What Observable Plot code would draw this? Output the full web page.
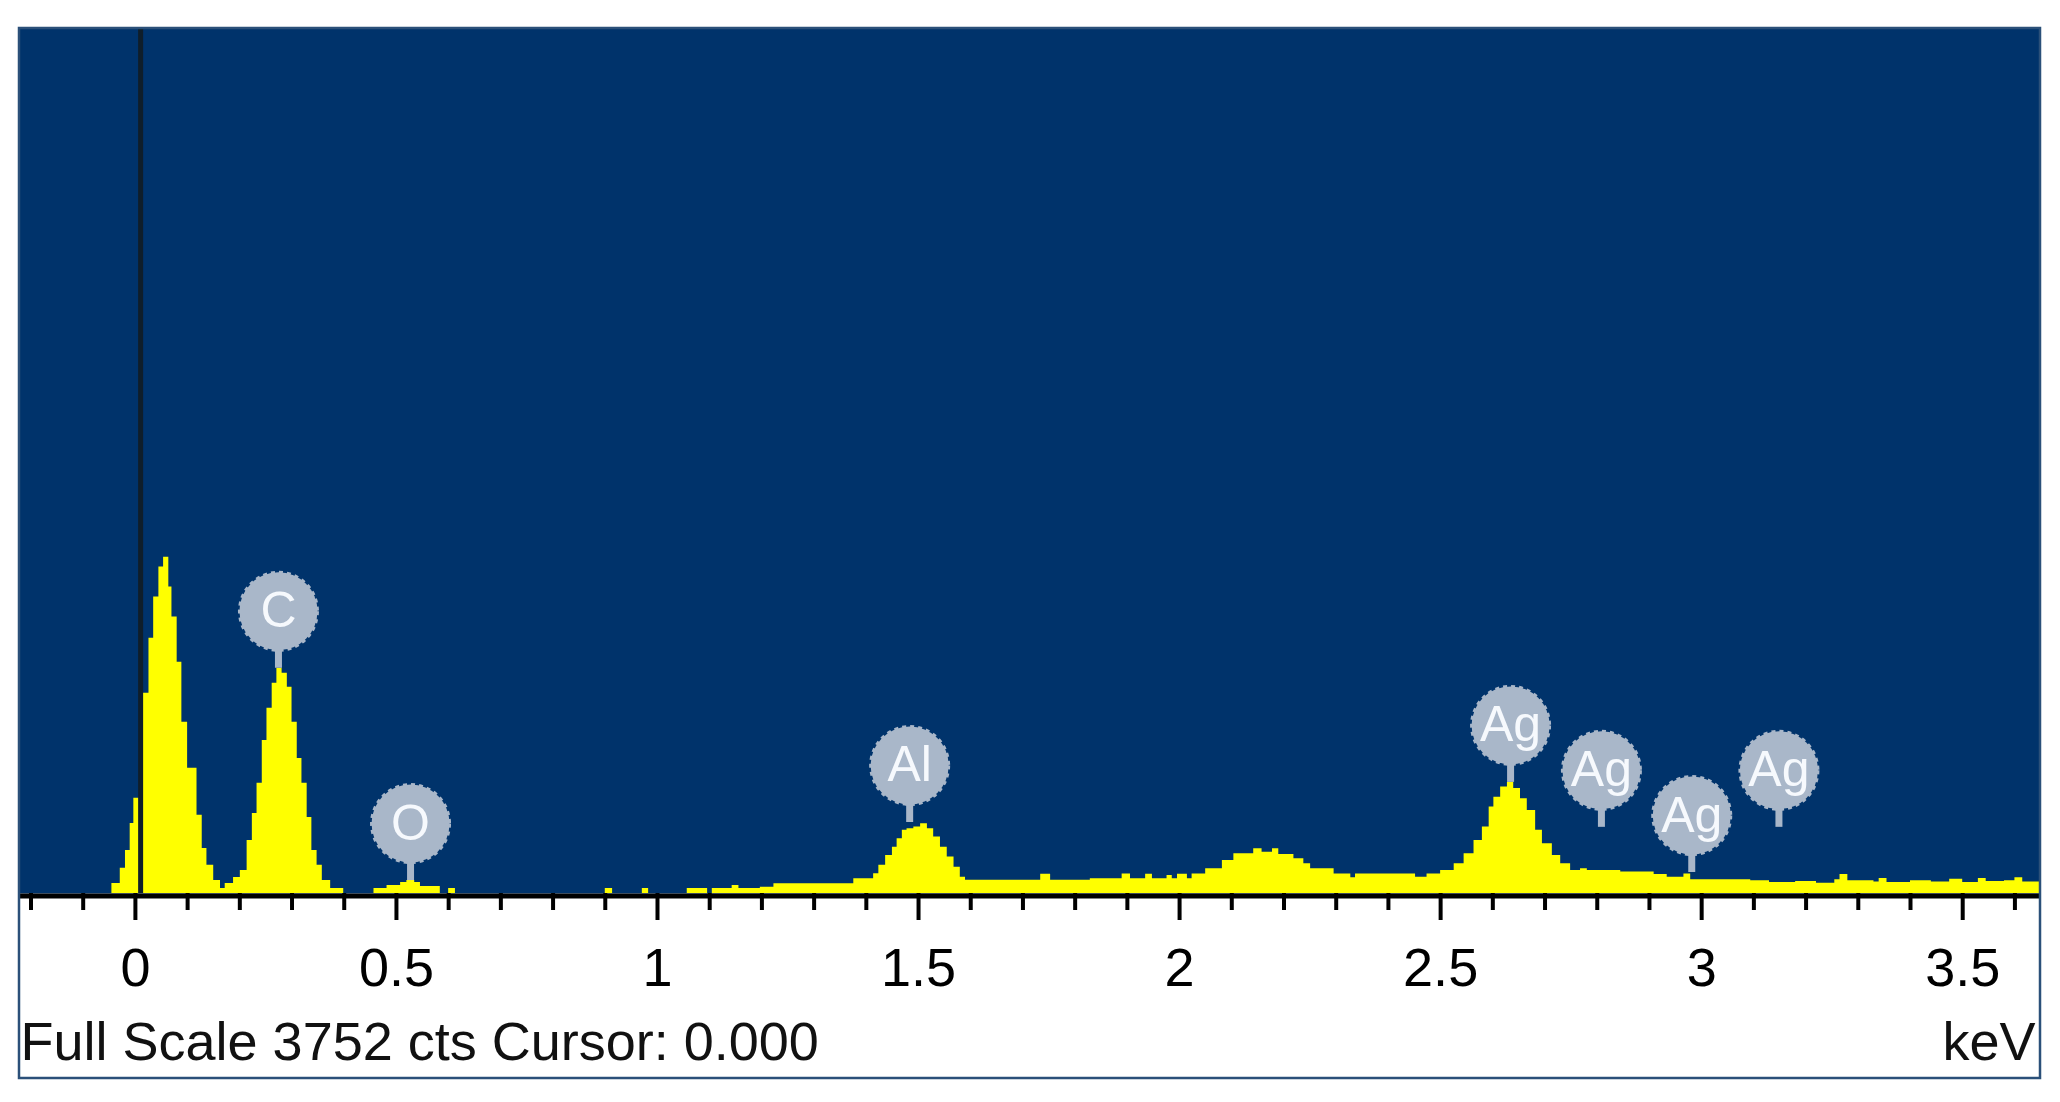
<!DOCTYPE html>
<html><head><meta charset="utf-8">
<script src="https://cdn.jsdelivr.net/npm/d3@7"></script>
<script src="https://cdn.jsdelivr.net/npm/@observablehq/plot@0.6"></script>
<style>
html,body{margin:0;padding:0;background:#fff;}
#chart svg{display:block;}
</style></head><body><div id="chart"></div>
<script>
// Spectrum: step left edges (keV) and counts
const energy = [-0.222, -0.045, -0.029, -0.019, -0.010, -0.003, 0.013, 0.026, 0.035, 0.045, 0.054, 0.064, 0.070, 0.080, 0.089, 0.100, 0.118, 0.128, 0.137, 0.150, 0.163, 0.172, 0.188, 0.201, 0.214, 0.224, 0.233, 0.243, 0.252, 0.262, 0.271, 0.281, 0.291, 0.300, 0.310, 0.319, 0.329, 0.338, 0.348, 0.358, 0.374, 0.399, 0.457, 0.482, 0.508, 0.520, 0.535, 0.546, 0.584, 0.600, 0.613, 0.900, 0.914, 0.971, 0.983, 1.057, 1.096, 1.105, 1.143, 1.156, 1.197, 1.223, 1.376, 1.414, 1.424, 1.437, 1.450, 1.459, 1.469, 1.478, 1.491, 1.504, 1.517, 1.529, 1.542, 1.555, 1.568, 1.580, 1.590, 1.734, 1.753, 1.829, 1.890, 1.906, 1.935, 1.948, 1.976, 1.986, 1.996, 2.015, 2.024, 2.050, 2.082, 2.104, 2.142, 2.158, 2.178, 2.190, 2.219, 2.238, 2.251, 2.296, 2.328, 2.337, 2.452, 2.462, 2.474, 2.500, 2.526, 2.545, 2.564, 2.580, 2.593, 2.602, 2.615, 2.628, 2.640, 2.653, 2.666, 2.682, 2.695, 2.714, 2.730, 2.749, 2.768, 2.781, 2.845, 2.909, 2.934, 2.966, 2.979, 3.094, 3.130, 3.180, 3.220, 3.255, 3.265, 3.280, 3.330, 3.340, 3.355, 3.400, 3.440, 3.475, 3.500, 3.530, 3.545, 3.580, 3.600, 3.615, 3.649];
const counts = [0, 43, 109, 187, 304, 413, 869, 1107, 1286, 1416, 1459, 1329, 1199, 1003, 743, 543, 339, 195, 122, 56, 22, 43, 69, 100, 230, 347, 478, 664, 803, 912, 977, 955, 895, 743, 586, 478, 330, 187, 122, 56, 22, 0, 22, 35, 48, 56, 48, 30, 0, 22, 0, 22, 0, 22, 0, 22, 0, 22, 35, 22, 27, 42, 64, 86, 122, 165, 201, 238, 274, 281, 288, 303, 281, 245, 201, 158, 114, 71, 58, 83, 58, 64, 85, 64, 83, 64, 78, 64, 83, 64, 85, 107, 143, 172, 194, 179, 194, 169, 151, 129, 107, 85, 68, 85, 70, 71, 85, 100, 129, 172, 230, 288, 375, 418, 462, 483, 455, 411, 360, 274, 216, 165, 129, 100, 107, 100, 93, 82, 71, 85, 60, 55, 48, 52, 45, 60, 82, 55, 50, 65, 48, 55, 50, 62, 48, 65, 52, 55, 68, 50, 50];

const majorTicks = [0, 0.5, 1, 1.5, 2, 2.5, 3, 3.5];
const minorTicks = [-0.2, -0.1, 0.1, 0.2, 0.3, 0.4, 0.6, 0.7, 0.8, 0.9, 1.1, 1.2, 1.3, 1.4, 1.6, 1.7, 1.8, 1.9, 2.1, 2.2, 2.3, 2.4, 2.6, 2.7, 2.8, 2.9, 3.1, 3.2, 3.3, 3.4, 3.6];

const peakNames = ["C", "O", "Al", "Ag", "Ag", "Ag", "Ag"];
const peakEnergy = [0.274, 0.527, 1.483, 2.634, 2.808, 2.981, 3.148];
const peakCounts = [977, 56, 308, 482, 287, 91, 287];

const fullScale = 3752;
const cursorEnergy = 0.01;
const captionText = "Full Scale 3752 cts Cursor: 0.000";
const unitText = "keV";

const W = 2060, H = 1102;
const mL = 19, mR = 20, mT = 28, mB = 209;
const boxBottom = 1078;
const xDomain = [-0.222, 3.649];
const cpp = fullScale / (H - mT - mB);
const bubble = "#a9b7c9";

const spectrum = energy.map((e, i) => ({e, c: counts[i]}));
const peaks = peakNames.map((n, i) => ({n, e: peakEnergy[i], c: peakCounts[i]}));

const plot = Plot.plot({
  width: W, height: H,
  marginLeft: mL, marginRight: mR, marginTop: mT, marginBottom: mB,
  style: {fontFamily: "'Liberation Sans', Arial, sans-serif", background: "transparent", overflow: "visible"},
  x: {domain: xDomain, axis: null, label: null},
  y: {domain: [0, fullScale], axis: null, label: null},
  marks: [
    Plot.frame({fill: "#00336b"}),
    Plot.areaY(spectrum, {x: "e", y: "c", curve: "step-after", fill: "#ffff00"}),
    Plot.ruleX([cursorEnergy], {stroke: "#0f1e2a", strokeWidth: 5}),
    Plot.ruleY([0], {stroke: "#000", strokeWidth: 5, dy: 2.5}),
    Plot.axisX(minorTicks, {tickSize: 17, tickFormat: () => "", strokeWidth: 4, color: "#000", label: null}),
    Plot.axisX(majorTicks, {tickSize: 27, tickPadding: 27, fontSize: 54, strokeWidth: 4, color: "#000", label: null, tickFormat: d => String(d)}),
    Plot.ruleX(peaks, {x: "e", y1: "c", y2: d => d.c + 50 * cpp, stroke: bubble, strokeWidth: 7}),
    Plot.dot(peaks, {x: "e", y: "c", dy: -57, r: 39, fill: bubble, stroke: bubble, strokeWidth: 3, strokeDasharray: "4 4"}),
    Plot.text(peaks, {x: "e", y: "c", dy: -57, text: "n", fill: "#f6f9fd", fontSize: 50}),
    Plot.text([captionText], {frameAnchor: "bottom-left", textAnchor: "start", lineAnchor: "top", dx: 1, dy: 128, fontSize: 54, fill: "#111"}),
    Plot.text([unitText], {frameAnchor: "bottom-right", textAnchor: "end", lineAnchor: "top", dx: -5, dy: 128, fontSize: 54, fill: "#111"})
  ]
});

d3.select(plot).append("rect")
  .attr("x", mL).attr("y", mT)
  .attr("width", W - mL - mR).attr("height", boxBottom - mT)
  .attr("fill", "none").attr("stroke", "#2b5079").attr("stroke-width", 2.5);

document.getElementById("chart").appendChild(plot);
</script>
</body></html>
